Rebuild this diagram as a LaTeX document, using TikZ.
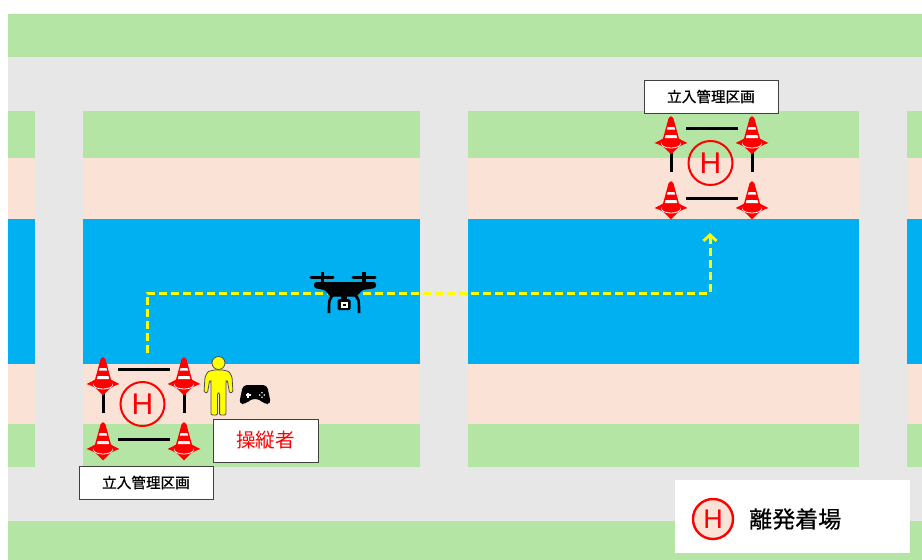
\documentclass[tikz,border=0pt]{standalone}
\usepackage{fontspec}
\newfontfamily\jp[FakeBold=0.6]{Noto Sans CJK JP}
\newfontfamily\jplight{Noto Sans CJK JP}
\newfontfamily\hfont{Liberation Sans}
\usetikzlibrary{arrows.meta}

\definecolor{grass}{HTML}{B5E5A4}
\definecolor{road}{HTML}{E7E7E7}
\definecolor{walk}{HTML}{FBE2D6}
\definecolor{river}{HTML}{00B0F0}
\definecolor{conered}{HTML}{FF0000}
\definecolor{routeyellow}{HTML}{FFFF00}

\tikzset{
  % boxes carrying the zone name
  zonelabel/.style={draw=black!75, fill=white, line width=0.9pt,
    minimum width=134pt, minimum height=33pt, inner sep=0pt,
    font=\jp\fontsize{14.6}{14.6}\selectfont},
  pilotlabel/.style={draw=black!75, fill=white, line width=0.9pt,
    minimum width=105pt, minimum height=43pt, inner sep=0pt, text=conered,
    font=\jplight\fontsize{19.6}{19.6}\selectfont},
  helipad/.style={circle, draw=conered, line width=2pt, minimum size=44pt,
    inner sep=0pt, text=conered, font=\hfont\fontsize{30}{30}\selectfont},
  rope/.style={draw=black, line width=3pt},
  route/.style={draw=routeyellow, line width=3pt, dash pattern=on 8pt off 4pt,
    -{Straight Barb[length=6pt,width=13pt,line width=2.8pt]}},
  % traffic cone, origin at the tip
  cone/.pic={
    \fill[conered] (-16.5,26) .. controls (-8,22) .. (0,15)
      .. controls (8,22) .. (16.5,26) .. controls (8,29) .. (0,37.5)
      .. controls (-8,29) .. (-16.5,26) -- cycle;
    \draw[white, line width=0.8pt] (0,27) ellipse [x radius=9.5pt, y radius=4pt];
    \fill[conered] (-2.4,1.2) .. controls (0,-1.3) .. (2.4,1.2) -- (9.5,27)
      .. controls (0,30.5) .. (-9.5,27) -- cycle;
    \fill[white] (-3.4,10) -- (3.4,10) -- (4.1,12.6) -- (-4.1,12.6) -- cycle;
    \fill[white] (-5.4,18) -- (5.4,18) -- (6.2,21) -- (-6.2,21) -- cycle;
  },
  % fenced take-off and landing zone, origin at the tip of the upper left cone
  landingzone/.pic={
    \coordinate (-tl) at (0,0);
    \coordinate (-tr) at (81,0);
    \coordinate (-bl) at (0,65);
    \coordinate (-br) at (81,65);
    \draw[rope] ([xshift=15pt,yshift=-11pt]-tl) -- ([xshift=-14pt,yshift=-11pt]-tr);
    \draw[rope] ([xshift=15pt,yshift=-16pt]-bl) -- ([xshift=-14pt,yshift=-16pt]-br);
    \draw[rope] ([yshift=-27pt]-tl) -- ([yshift=10pt]-bl);
    \draw[rope] ([yshift=-27pt]-tr) -- ([yshift=10pt]-br);
    \pic at (-tl) {cone};
    \pic at (-tr) {cone};
    \pic at (-bl) {cone};
    \pic at (-br) {cone};
    \node[helipad] (-pad) at (39.5,46) {H};
  }
}

\begin{document}
\begin{tikzpicture}[x=1pt, y=-1pt]
  \useasboundingbox (0,0) rectangle (922,560);
  \fill[white] (0,0) rectangle (922,560);

  % roads and green verges
  \fill[road] (8,57) rectangle (922,521);
  \fill[grass] (8,14) rectangle (922,57);
  \fill[grass] (8,521) rectangle (922,560);

  % city blocks crossed by the river
  \foreach \xa/\xb in {8/35, 83/420, 468/859, 907/922} {
    \fill[grass] (\xa,111) rectangle (\xb,158);
    \fill[walk]  (\xa,158) rectangle (\xb,219);
    \fill[river] (\xa,219) rectangle (\xb,364);
    \fill[walk]  (\xa,364) rectangle (\xb,424);
    \fill[grass] (\xa,424) rectangle (\xb,467);
  }

  % the two fenced zones
  \pic (start) at (103,358) {landingzone};
  \pic (goal)  at (671,117) {landingzone};

  \node[zonelabel] (startlabel) at (146,482.5) {立入管理区画};
  \node[zonelabel] (goallabel)  at (711,96.5)  {立入管理区画};

  % flight route
  \coordinate (takeoff) at (147,353);
  \coordinate (turnA) at (147,293);
  \coordinate (turnB) at (710,293);
  \coordinate (landing) at (710,233);
  \draw[route] (takeoff) -- (turnA) -- (turnB) -- (landing);

  % drone
  \begin{scope}
    \draw[line width=3pt, line cap=round] (311,277) -- (333,277);
    \draw[line width=3pt, line cap=round] (353,277) -- (375,277);
    \fill (320.5,272) rectangle (324,285);
    \fill (362,272) rectangle (365.5,285);
    \fill[rounded corners=2.5pt] (314,282) -- (376,282) -- (376,288)
      -- (362,290) -- (357,296.5) -- (330,296.5) -- (325,290) -- (314,288) -- cycle;
    \draw[line width=2.6pt] (334,294) .. controls (329,299) .. (329,313);
    \draw[line width=2.6pt] (354,294) .. controls (359,299) .. (359,313);
    \fill (341,294) rectangle (347,300);
    \fill[rounded corners=1.5pt] (337.5,299) rectangle (350.5,310);
    \fill[white] (340.5,302) rectangle (347.5,307.5);
    \fill (342.5,303.5) rectangle (345.5,306);
  \end{scope}

  % pilot
  \node[circle, fill=routeyellow, draw=black!70, line width=0.8pt,
        minimum size=13pt, inner sep=0pt] (pilothead) at (218.5,363) {};
  \filldraw[fill=routeyellow, draw=black!70, line width=0.8pt, rounded corners=1.2pt]
    (214,370) -- (223,370) -- (229,371.5) -- (232,377) -- (233,392) -- (229.5,393)
    -- (227.5,381) -- (226,381) -- (226,415) -- (219.6,415) -- (219.6,393)
    -- (217.4,393) -- (217.4,415) -- (211,415) -- (211,381) -- (209.5,381)
    -- (207.5,393) -- (204,392) -- (205,377) -- (208,371.5) -- cycle;

  % controller
  \fill[rounded corners=4pt] (243,385) -- (267,385) -- (271,404) -- (264,404)
    -- (259.5,399) -- (250.5,399) -- (246,404) -- (239,404) -- cycle;
  \fill[white] (245.5,394.2) rectangle (250.5,395.8);
  \fill[white] (247.2,392.5) rectangle (248.8,397.5);
  \foreach \dx/\dy in {0/-2.3, 0/2.3, -2.3/0, 2.3/0}
    \fill[white] (262+\dx,395+\dy) circle [radius=0.9pt];

  \node[pilotlabel] (pilotlabel) at (265.5,440.5) {操縦者};

  % legend
  \node[fill=white, minimum width=235pt, minimum height=73pt, inner sep=0pt]
    (legend) at (792.5,516.5) {};
  \node[helipad, fill=walk, line width=2.4pt, minimum size=40pt,
        font=\hfont\fontsize{27}{27}\selectfont] (legendpad) at (713,519) {H};
  \node[anchor=west, inner sep=0pt, font=\jp\fontsize{23}{23}\selectfont]
    (legendtext) at (749,519) {離発着場};
\end{tikzpicture}
\end{document}
